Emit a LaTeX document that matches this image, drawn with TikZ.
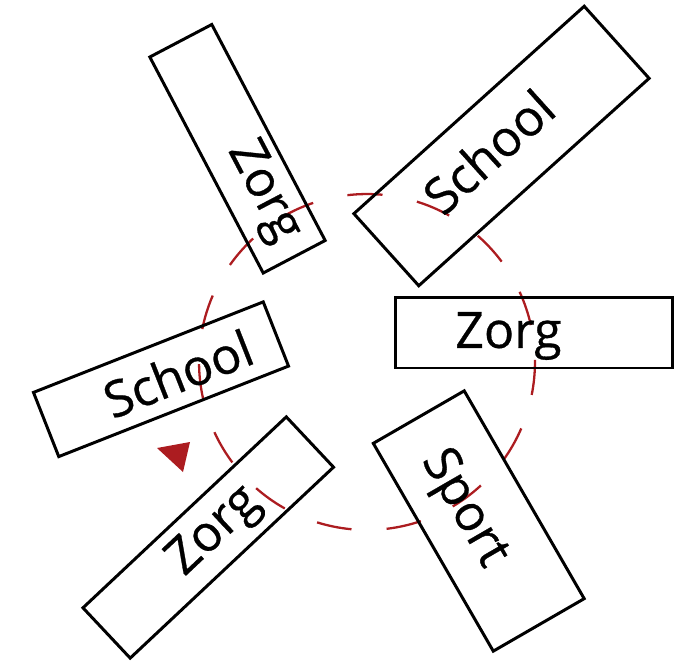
\documentclass[tikz,border=0pt]{standalone}
\usepackage{fontspec}
\setmainfont{Open Sans}
\newfontfamily\cardfont{Open Sans}[FakeBold=0.6]
\usetikzlibrary{calc}
\definecolor{ringred}{RGB}{172,28,32}
\tikzset{
  card/.style={draw=black, line width=1.7pt, inner sep=0pt, rectangle},
  word/.style={font=\cardfont\fontsize{28.5}{30}\selectfont, inner sep=0pt, text=black},
  ring/.style={draw=ringred, line width=1.3pt},
}
\begin{document}
\begin{tikzpicture}[x=0.02cm,y=0.02cm]
\useasboundingbox (0,0) rectangle (677,664);
% dashed ring behind the cards
\coordinate (C) at (367,302);
\foreach \k in {0,...,14}{
  \pgfmathsetmacro\s{84.7+24*\k}
  \draw[ring] ($(C)+(\s:3.36cm)$) arc[start angle=\s, delta angle=12, radius=3.36cm];
}
% cards
\node[card, minimum width=4.88cm, minimum height=1.4cm, rotate=-62.3] (cardA) at (237.5,515.25) {};
\node[word, rotate=-62.3] (wordA) at (263,472) {Zorg};

\node[card, minimum width=6.2cm, minimum height=1.94cm, rotate=42] (cardB) at (501.5,518) {};
\node[word, rotate=42] (wordB) at (488.5,512.5) {School};

\node[card, minimum width=5.56cm, minimum height=1.42cm] (cardC) at (534,331.5) {};
\node[word] (wordC) at (508.5,328) {Zorg};

\node[card, minimum width=4.94cm, minimum height=1.38cm, rotate=21.5] (cardD) at (161,284.75) {};
\node[word, rotate=21.5] (wordD) at (178,290.5) {School};

\node[card, minimum width=5.58cm, minimum height=1.38cm, rotate=43.2] (cardE) at (208.25,126.5) {};
\node[word, rotate=43.2] (wordE) at (215,132) {Zorg};

\node[card, minimum width=4.8cm, minimum height=2.1cm, rotate=-60] (cardF) at (478.75,143) {};
\node[word, rotate=-60] (wordF) at (463.5,155) {Sport};

% red marker
\fill[ringred] (157,216) -- (190,222) -- (183,192) -- cycle;
\end{tikzpicture}
\end{document}
